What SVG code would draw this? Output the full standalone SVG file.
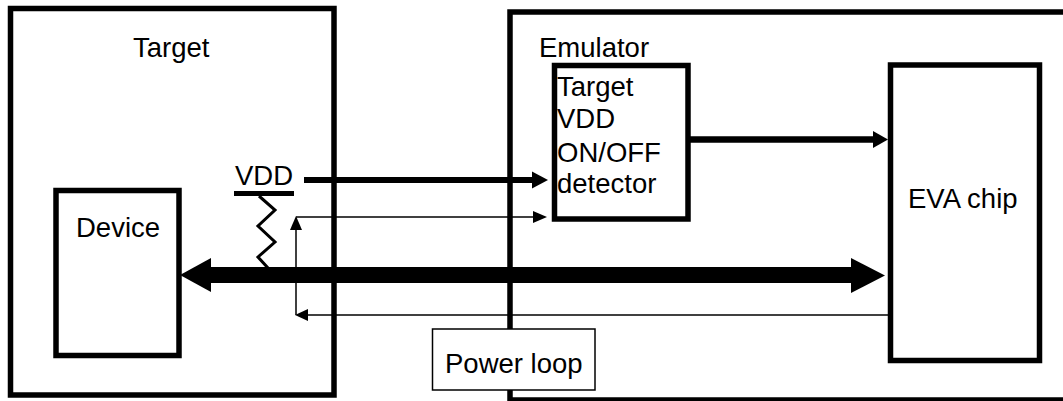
<svg xmlns="http://www.w3.org/2000/svg" width="1063" height="401" viewBox="0 0 1063 401">
<style>
.box{fill:#fff;stroke:#000;stroke-width:5.5}
.thinbox{fill:#fff;stroke:#000;stroke-width:1.5}
text{font-family:"Liberation Sans",Arial,sans-serif;font-size:27.5px;fill:#000}
.thin{stroke:#000;stroke-width:1.5;fill:none}
.med{stroke:#000;stroke-width:6;fill:none}
.head{fill:#000;stroke:none}
</style>
<rect width="1063" height="401" fill="#fff"/>
<g id="target">
<rect class="box" x="10.5" y="8.5" width="323.5" height="386.5"/>
<text x="133" y="57">Target</text>
</g>
<g id="emulator">
<rect class="box" x="510" y="12" width="600" height="388"/>
<text x="539" y="57">Emulator</text>
</g>
<g id="device">
<rect class="box" x="56" y="190.5" width="123" height="165"/>
<text x="76" y="237">Device</text>
</g>
<g id="detector">
<rect class="box" x="554.5" y="65.5" width="133.5" height="153.5"/>
<text x="557" y="96">Target</text>
<text x="557" y="128">VDD</text>
<text x="557" y="162">ON/OFF</text>
<text x="557" y="193">detector</text>
</g>
<g id="eva">
<rect class="box" x="890.5" y="65" width="149" height="295.5"/>
<text x="908" y="208">EVA chip</text>
</g>
<g id="vdd">
<text x="235" y="185">VDD</text>
<line x1="234" y1="193.5" x2="294" y2="193.5" stroke="#000" stroke-width="5"/>
<polyline points="259,196 275,210 258,226 275,242 258,257 268,268" fill="none" stroke="#000" stroke-width="3"/>
</g>
<g id="connectors">
<line class="med" x1="304" y1="180" x2="534" y2="180"/>
<polygon class="head" points="532,171.5 548,180 532,188.5"/>
<line class="thin" x1="296" y1="217" x2="535" y2="217"/>
<polygon class="head" points="533,211 547,217 533,223"/>
<line class="thin" x1="296" y1="315" x2="296" y2="229"/>
<polygon class="head" points="290,230 296,216 302,230"/>
<line class="thin" x1="893" y1="315" x2="306" y2="315"/>
<polygon class="head" points="308,309 295,315 308,321"/>
<rect x="209" y="267" width="643" height="16" fill="#000"/>
<polygon class="head" points="211,258 180,275 211,292"/>
<polygon class="head" points="851,258 885,275.5 851,293"/>
<line x1="690" y1="139.5" x2="875" y2="139.5" stroke="#000" stroke-width="6.5"/>
<polygon class="head" points="873,131 888,139.5 873,148"/>
</g>
<g id="powerloop">
<rect class="thinbox" x="432.5" y="329" width="162.5" height="61"/>
<text x="445" y="373">Power loop</text>
</g>
</svg>
